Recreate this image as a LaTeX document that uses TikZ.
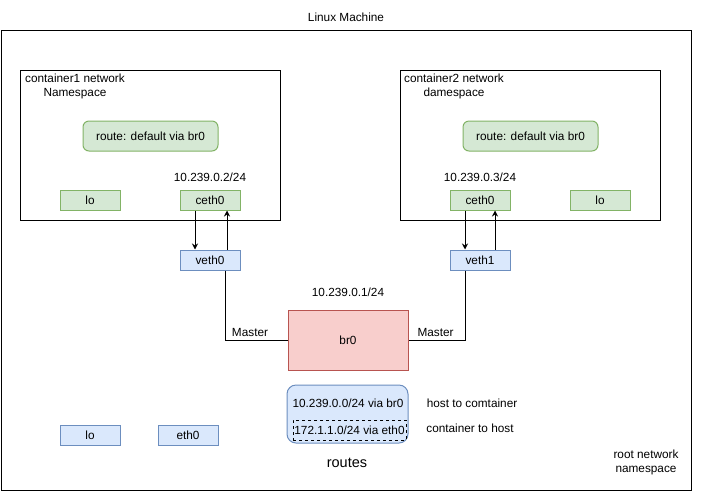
\documentclass[tikz,border=0pt]{standalone}
\usepackage{fontspec}
\setmainfont{Liberation Sans}
\usetikzlibrary{positioning,arrows.meta}
\definecolor{gfill}{HTML}{D5E8D4}
\definecolor{gline}{HTML}{82B366}
\definecolor{bfill}{HTML}{DAE8FC}
\definecolor{bline}{HTML}{6C8EBF}
\definecolor{rfill}{HTML}{F8CECC}
\definecolor{rline}{HTML}{B85450}
\tikzstyle{frame} = [draw, line width=1pt, inner sep=0pt]
\tikzstyle{iface} = [draw=gline, fill=gfill, line width=1pt, minimum width=60pt, minimum height=20pt, inner sep=0pt]
\tikzstyle{hostif} = [draw=bline, fill=bfill, line width=1pt, minimum width=60pt, minimum height=20pt, inner sep=0pt]
\tikzstyle{routebox} = [draw=gline, fill=gfill, line width=1pt, rounded corners=6pt, minimum width=135pt, minimum height=30pt, inner sep=0pt]
\tikzstyle{txt} = [inner sep=0pt, align=center]
\tikzstyle{link} = [line width=1pt, ->, >={Stealth[length=6pt,width=6pt]}]

\begin{document}
\begin{tikzpicture}[x=1pt, y=-1pt, font=\fontsize{11.8}{14}\selectfont]
    \useasboundingbox (0,0) rectangle (711,491);

    % linux machine
    \node (machine) [frame, minimum width=690pt, minimum height=460pt] at (346,260) {};
    \node (title) [txt] at (346,17) {Linux Machine};
    \node (rootns) [txt] at (646,462) {root network\\namespace};

    % container1
    \node (ns1) [frame, minimum width=260pt, minimum height=150pt] at (150,145) {};
    \node (ns1name) [txt] at (75,86) {container1 network\\Namespace};
    \node (route1) [routebox] at (150.5,136) {route: default via br0};
    \node (lo1) [iface] at (90,200) {lo};
    \node (ceth1) [iface] at (210,200) {ceth0};
    \node (ip1) [txt] at (210,177) {10.239.0.2/24};

    % container2
    \node (ns2) [frame, minimum width=260pt, minimum height=150pt] at (530,145) {};
    \node (ns2name) [txt] at (454,86) {container2 network\\damespace};
    \node (route2) [routebox] at (530.5,136) {route: default via br0};
    \node (ceth2) [iface] at (480,200) {ceth0};
    \node (lo2) [iface] at (600,200) {lo};
    \node (ip2) [txt] at (480,177) {10.239.0.3/24};

    % veth pair ends and bridge
    \node (veth0) [hostif] at (210,260) {veth0};
    \node (veth1) [hostif] at (480,260) {veth1};
    \node (br0) [draw=rline, fill=rfill, line width=1pt, minimum width=120pt, minimum height=60pt, inner sep=0pt] at (348,340) {br0};
    \node (brip) [txt] at (348,292) {10.239.0.1/24};

    \draw [link] ([xshift=-15pt]ceth1.south) -- ([xshift=-15pt]veth0.north);
    \draw [link] ([xshift=17pt]veth0.north) -- ([xshift=17pt]ceth1.south);
    \draw [link] ([xshift=-15pt]ceth2.south) -- ([xshift=-15pt]veth1.north);
    \draw [link] ([xshift=15pt]veth1.north) -- ([xshift=15pt]ceth2.south);

    \draw [line width=1pt] ([xshift=15pt]veth0.south) |- node [pos=0.7, above, inner sep=3pt] {Master} (br0.west);
    \draw [line width=1pt] ([xshift=-15pt]veth1.south) |- node [pos=0.76, above, inner sep=3pt] {Master} (br0.east);

    % host routes
    \node (routes) [draw=bline, fill=bfill, line width=1pt, rounded corners=9pt, minimum width=121pt, minimum height=58pt, inner sep=0pt] at (347.5,414) {};
    \node (r1) [txt] at (348,403) {10.239.0.0/24 via br0};
    \node (r2) [draw, dashed, line width=1pt, minimum width=113pt, minimum height=20pt, inner sep=0pt] at (349.5,430) {172.1.1.0/24 via eth0};
    \node (r1note) [txt] at (472,403) {host to comtainer};
    \node (r2note) [txt] at (470,428) {container to host};
    \node (routeslbl) [txt, font=\fontsize{14.5}{16}\selectfont] at (347,463) {routes};

    \node (lo0) [hostif] at (90,435) {lo};
    \node (eth0) [hostif] at (188,435) {eth0};
  \end{tikzpicture}
\end{document}
